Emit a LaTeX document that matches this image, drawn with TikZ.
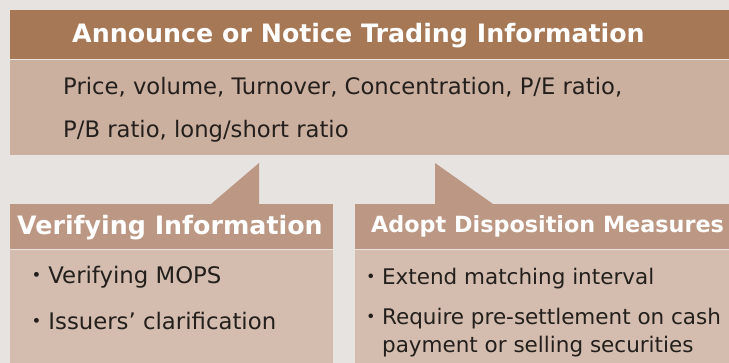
\documentclass[tikz,border=0pt]{standalone}
\usepackage{fontspec}
\setmainfont{DejaVu Sans}
\newfontfamily\jpfont{Noto Sans CJK JP}
\usetikzlibrary{positioning,calc}

\definecolor{pagebg}{HTML}{E7E3E0}
\definecolor{topbar}{HTML}{A67856}
\definecolor{topbody}{HTML}{CBB09F}
\definecolor{subbar}{HTML}{BC9884}
\definecolor{subbody}{HTML}{D4BDAE}
\definecolor{ink}{HTML}{231F1C}

\tikzset{
  panel/.style={rectangle, inner sep=0pt, anchor=north west},
  headtxt/.style={text=white, anchor=base west, inner sep=0pt},
  bodytxt/.style={text=ink, anchor=base west, inner sep=0pt, font=\fontsize{21.5}{26}\selectfont},
  bulletmark/.style={text=ink, anchor=base west, inner sep=0pt, font=\jpfont\fontsize{21.5}{26}\selectfont},
  pointer/.style={fill=subbar}
}

\begin{document}
\begin{tikzpicture}[x=1pt,y=-1pt]
  \useasboundingbox[fill=pagebg] (0,0) rectangle (729,363);

  % upper panel
  \node[panel, fill=topbar, minimum width=719pt, minimum height=49pt] (annbar) at (10,10) {};
  \node[panel, fill=topbody, minimum width=719pt, minimum height=95pt] (annbody) at (annbar.south west) {};
  \node[headtxt, font=\bfseries\fontsize{25.3}{30}\selectfont] (anntitle) at (72,43) {Announce or Notice Trading Information};
  \node[bodytxt, font=\fontsize{22.7}{28}\selectfont] (annline1) at (63,95) {Price, volume, Turnover, Concentration, P/E ratio,};
  \node[bodytxt, font=\fontsize{22.7}{28}\selectfont] (annline2) at (63,138) {P/B ratio, long/short ratio};

  % lower panels
  \node[panel, fill=subbar, minimum width=323pt, minimum height=45pt] (verbar) at (10,204) {};
  \node[panel, fill=subbody, minimum width=323pt, minimum height=114pt] (verbody) at (verbar.south west) {};
  \node[panel, fill=subbar, minimum width=374pt, minimum height=45pt] (adpbar) at (355,204) {};
  \node[panel, fill=subbody, minimum width=374pt, minimum height=114pt] (adpbody) at (adpbar.south west) {};

  % pointers up to the upper panel
  \fill[pointer] ($(verbar.north west)+(201,0)$) -- ($(verbar.north west)+(249,-41)$) -- ($(verbar.north west)+(249,0)$) -- cycle;
  \fill[pointer] ($(adpbar.north west)+(80,0)$) -- ($(adpbar.north west)+(80,-41)$) -- ($(adpbar.north west)+(138,0)$) -- cycle;

  \node[headtxt, font=\bfseries\fontsize{25.3}{30}\selectfont] (vertitle) at (17,235) {Verifying Information};
  \node[headtxt, font=\bfseries\fontsize{22.3}{27}\selectfont] (adptitle) at (371,233) {Adopt Disposition Measures};

  % bullet items
  \begin{scope}[bodytxt/.append style={font=\fontsize{22.8}{27}\selectfont},
                bulletmark/.append style={font=\jpfont\fontsize{22.8}{27}\selectfont}]
    \node[bulletmark] (vb1) at (25,284) {・};
    \node[bodytxt, right=0pt of vb1.base east, anchor=base west] (vi1) {Verifying MOPS};
    \node[bulletmark] (vb2) at (25,330) {・};
    \node[bodytxt, right=0pt of vb2.base east, anchor=base west] (vi2) {Issuers’ clarification};
  \end{scope}

  \node[bulletmark] (ab1) at (360,285) {・};
  \node[bodytxt, right=0pt of ab1.base east, anchor=base west] (ai1) {Extend matching interval};
  \node[bulletmark] (ab2) at (360,325) {・};
  \node[bodytxt, right=0pt of ab2.base east, anchor=base west] (ai2) {Require pre-settlement on cash};
  \node[bodytxt] (ai3) at (ai2.base west |- 0,353) {payment or selling securities};
\end{tikzpicture}
\end{document}
